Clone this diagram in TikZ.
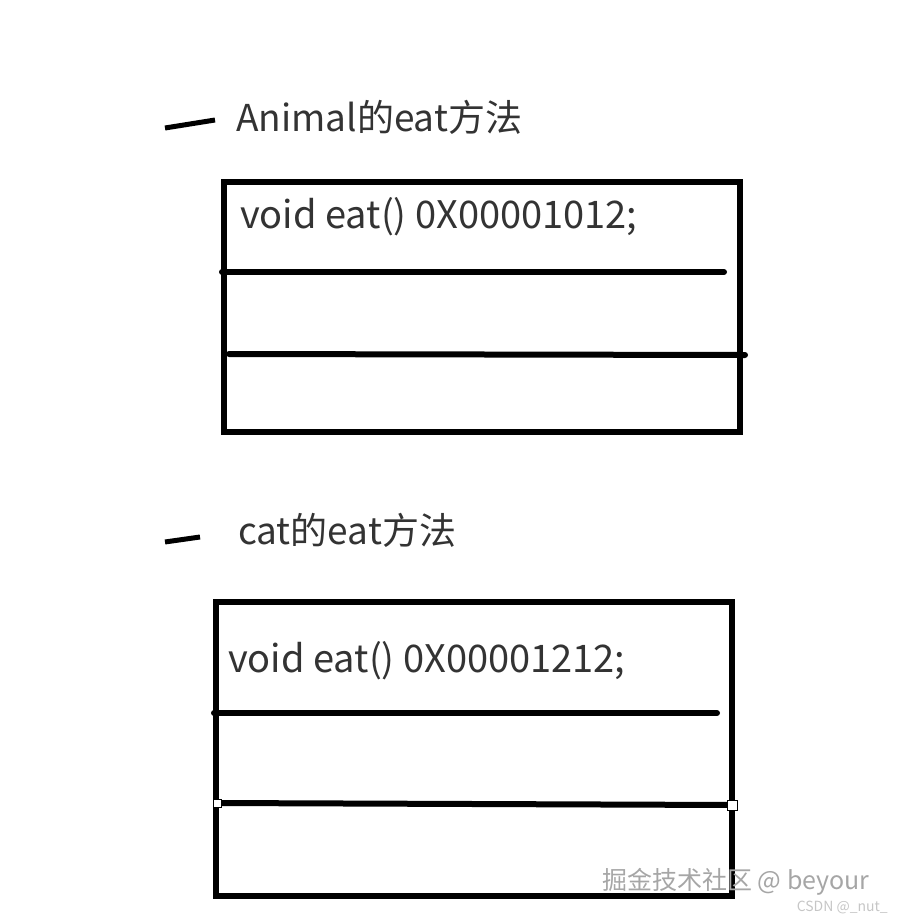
\documentclass[tikz,border=0pt]{standalone}
\usepackage{fontspec}
\setmainfont{Noto Sans CJK SC}
\usepackage{xcolor}
\usetikzlibrary{positioning}

\begin{document}
\begin{tikzpicture}[x=1pt,y=-1pt,every node/.style={inner sep=0pt,anchor=west,text=black!80,font=\fontsize{37}{44}\selectfont}]
    \useasboundingbox (0,0) rectangle (897,921);
    \tikzset{frame/.style={draw,line width=6pt,minimum width=516,anchor=north west},
             bar/.style={line width=6pt,line cap=round},
             stroke/.style={line width=5pt}}
    % Animal
    \node (AL) at (236,117) {Animal的eat方法};
    \coordinate (AD1) at (165,128);
    \coordinate (AD2) at (215,120);
    \draw[stroke] (AD1) -- (AD2);
    \node[frame,minimum height=250] (AB) at (221,179) {};
    \node[font=\fontsize{38}{44}\selectfont] (AM) at (240,217) {void eat() 0X00001012;};
    \coordinate (A1) at (222,272);
    \coordinate (A2) at (724,272);
    \coordinate (A3) at (229,354);
    \coordinate (A4) at (745,355);
    \draw[bar] (A1) -- (A2);
    \draw[bar] (A3) -- (A4);
    % cat
    \node (CL) at (238,530) {cat的eat方法};
    \coordinate (CD1) at (165,542);
    \coordinate (CD2) at (200,537);
    \draw[stroke] (CD1) -- (CD2);
    \node[frame,minimum height=294] (CB) at (213,599) {};
    \node[font=\fontsize{38}{44}\selectfont] (CM) at (228,661) {void eat() 0X00001212;};
    \coordinate (C1) at (214,713);
    \coordinate (C2) at (717,713);
    \coordinate (C3) at (217,803);
    \coordinate (C4) at (732,805);
    \draw[bar] (C1) -- (C2);
    \draw[line width=6pt] (C3) -- (C4);
    \draw[fill=white,line width=0.8pt] ([shift={(-4,-4)}]C3) rectangle ([shift={(4,4)}]C3);
    \draw[fill=white,line width=0.8pt] ([shift={(-5,-5)}]C4) rectangle ([shift={(5,5)}]C4);
    % watermark
    \node[text=gray!70,font=\fontsize{25}{30}\selectfont] (WM) at (602,882) {掘金技术社区 @ beyour};
    \node[text=gray!45,anchor=east,font=\fontsize{14}{17}\selectfont] (CS) at (888,907) {CSDN @\_nut\_};
\end{tikzpicture}
\end{document}
